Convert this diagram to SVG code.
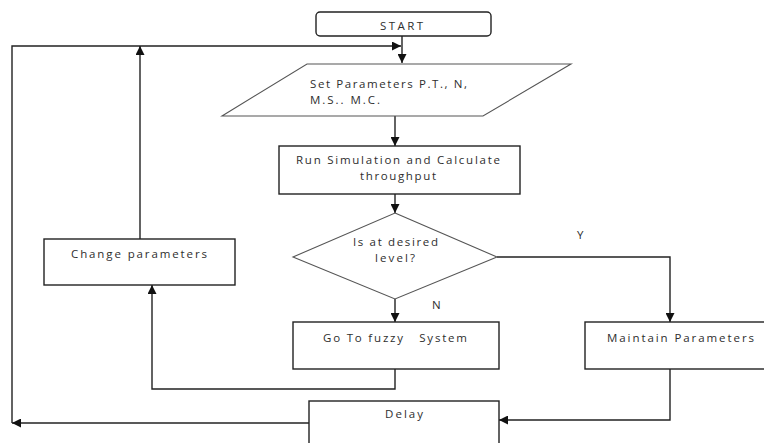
<svg xmlns="http://www.w3.org/2000/svg" width="764" height="443" viewBox="0 0 764 443">
<defs>
<style>
.box{fill:#fff;stroke:#222;stroke-width:1.4}
.shape{fill:#fff;stroke:#555;stroke-width:1.1}
.con{fill:none;stroke:#222;stroke-width:1.4}
text{font-family:"Open Sans","DejaVu Sans",sans-serif;font-size:11.5px;fill:#2e2e2e}
</style>
<marker id="arr" viewBox="0 0 10 10" refX="10" refY="5" markerUnits="userSpaceOnUse" markerWidth="9" markerHeight="9" orient="auto">
<path d="M0,0 L10,5 L0,10 z" fill="#111"/>
</marker>
</defs>
<rect width="764" height="443" fill="#fff"/>
<g id="connectors">
<path class="con" d="M402,36 V63" marker-end="url(#arr)"/>
<path class="con" d="M309,423 H12" marker-end="url(#arr)"/>
<path class="con" d="M12,423 V46 H401" marker-end="url(#arr)"/>
<path class="con" d="M140,239 V46" marker-end="url(#arr)"/>
<path class="con" d="M395,116 V146" marker-end="url(#arr)"/>
<path class="con" d="M395,194 V213" marker-end="url(#arr)"/>
<path class="con" d="M395,299 V322" marker-end="url(#arr)"/>
<path class="con" d="M395,369 V389 H152 V285" marker-end="url(#arr)"/>
<path class="con" d="M497,257 H670 V322" marker-end="url(#arr)"/>
<path class="con" d="M670,369 V420 H499" marker-end="url(#arr)"/>
</g>
<g id="start">
<rect class="box" x="316" y="12" width="175" height="24" rx="4" stroke="#555"/>
<text x="380" y="30" textLength="43" lengthAdjust="spacing">START</text>
</g>
<g id="set-params">
<polygon class="shape" points="307,64 571,64 483,116 222,116"/>
<text x="310" y="88" textLength="157" lengthAdjust="spacing">Set Parameters P.T., N,</text>
<text x="310" y="104" textLength="70" lengthAdjust="spacing">M.S.. M.C.</text>
</g>
<g id="run-sim">
<rect class="box" x="279" y="146" width="241" height="48"/>
<text x="296" y="164" textLength="204" lengthAdjust="spacing">Run Simulation and Calculate</text>
<text x="360" y="179.5" textLength="76" lengthAdjust="spacing">throughput</text>
</g>
<g id="decision">
<polygon class="shape" points="395,213 497,257 395,299 293,257"/>
<text x="353" y="246" textLength="85" lengthAdjust="spacing">Is at desired</text>
<text x="375" y="261.5" textLength="40" lengthAdjust="spacing">level?</text>
</g>
<g id="label-n"><text x="432" y="309" textLength="8" lengthAdjust="spacing">N</text></g>
<g id="label-y"><text x="577" y="239" textLength="7" lengthAdjust="spacing">Y</text></g>
<g id="fuzzy">
<rect class="box" x="293" y="322" width="206" height="47"/>
<text x="323" y="342" textLength="144" lengthAdjust="spacing" xml:space="preserve">Go To fuzzy   System</text>
</g>
<g id="change-params">
<rect class="box" x="44" y="239" width="191" height="46"/>
<text x="71" y="258" textLength="136" lengthAdjust="spacing">Change parameters</text>
</g>
<g id="maintain">
<rect class="box" x="585" y="322" width="185" height="47"/>
<text x="607" y="342" textLength="147" lengthAdjust="spacing">Maintain Parameters</text>
</g>
<g id="delay">
<rect class="box" x="309" y="401" width="190" height="50"/>
<text x="385" y="418" textLength="38" lengthAdjust="spacing">Delay</text>
</g>
</svg>
